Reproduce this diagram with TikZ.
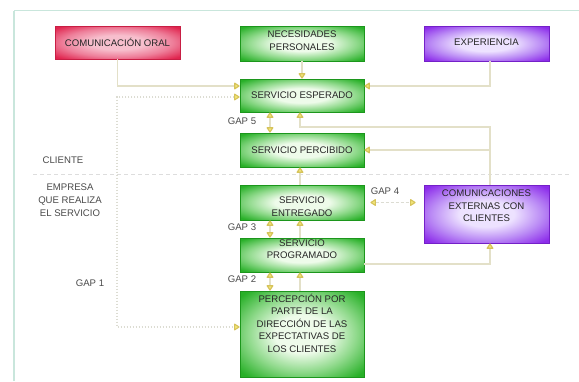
\documentclass[tikz,border=0pt]{standalone}
\usepackage{fontspec}
\setmainfont{Liberation Sans}
\usetikzlibrary{arrows.meta}

% palette
\definecolor{gIn}{HTML}{EEFBEA}
\definecolor{gMid}{HTML}{8ED98A}
\definecolor{gOut}{HTML}{28B028}
\definecolor{gEdge}{HTML}{1C961C}
\definecolor{rIn}{HTML}{F7BFCD}
\definecolor{rMid}{HTML}{EE7F9A}
\definecolor{rOut}{HTML}{E0244E}
\definecolor{rEdge}{HTML}{C81E44}
\definecolor{pIn}{HTML}{EDE2FF}
\definecolor{pMid}{HTML}{BB8CF5}
\definecolor{pOut}{HTML}{8C2CEA}
\definecolor{pEdge}{HTML}{7420C8}
\definecolor{frameteal}{HTML}{C9E6DC}
\definecolor{wirecol}{HTML}{E3E0C8}
\definecolor{gapcol}{HTML}{DCDCD2}
\definecolor{tipfill}{HTML}{F3E67A}
\definecolor{tipedge}{HTML}{D6C35A}
\definecolor{txt}{HTML}{262626}
\definecolor{lbltxt}{HTML}{4A4A4A}
\definecolor{sepgray}{HTML}{DDDDDD}

% soft glow fills for the boxes: dark rim, light centre
\pgfdeclareradialshading{greenglow}{\pgfpoint{0bp}{0bp}}{color(0bp)=(gIn); color(11bp)=(gIn); color(22bp)=(gMid); color(33bp)=(gOut); color(100bp)=(gOut)}
\pgfdeclareradialshading{redglow}{\pgfpoint{0bp}{0bp}}{color(0bp)=(rIn); color(11bp)=(rIn); color(22bp)=(rMid); color(33bp)=(rOut); color(100bp)=(rOut)}
\pgfdeclareradialshading{purpleglow}{\pgfpoint{0bp}{0bp}}{color(0bp)=(pIn); color(11bp)=(pIn); color(22bp)=(pMid); color(33bp)=(pOut); color(100bp)=(pOut)}

\tikzset{
  box/.style={rectangle, minimum width=124pt, inner sep=0pt, line width=0.8pt},
  greenbox/.style={box, shade, shading=greenglow, draw=gEdge},
  redbox/.style={box, shade, shading=redglow, draw=rEdge},
  purplebox/.style={box, shade, shading=purpleglow, draw=pEdge},
  boxtext/.style={text=txt, font=\fontsize{9.6}{12.5}\selectfont, align=center, inner sep=0pt},
  tag/.style={text=lbltxt, font=\fontsize{9.6}{12.8}\selectfont, align=center, inner sep=0pt},
  wire/.style={draw=wirecol, line width=1.2pt},
  gapwire/.style={draw=wirecol, line width=1.2pt},
  gapdash/.style={draw=gapcol, line width=1.1pt, dash pattern=on 3pt off 2pt},
  gapdot/.style={draw=gapcol, line width=1.1pt, dash pattern=on 1.5pt off 1.5pt},
  sepline/.style={draw=sepgray, line width=0.9pt, dash pattern=on 4pt off 3pt},
  framerule/.style={draw=frameteal},
}

\begin{document}
\begin{tikzpicture}[x=1pt, y=-1pt,
  >={Triangle[length=6pt, width=7.5pt, fill=tipfill, color=tipedge, line join=round]}]

\fill[white] (0,0) rectangle (579,381);
\useasboundingbox (0,0) rectangle (579,381);

% page frame (top and left rules)
\coordinate (frameTL) at (14,10.5);
\coordinate (frameTR) at (579,10.5);
\coordinate (frameBL) at (14,381);
\draw[framerule, line width=1.4pt] (frameTL) -- (frameTR);
\draw[framerule, line width=2.4pt] (frameTL) -- (frameBL);

% client / company divider
\coordinate (sepL) at (33,174);
\coordinate (sepR) at (570,174);
\draw[sepline] (sepL) -- (sepR);

% guide rows and columns for the connectors
\coordinate (rowA) at (0,86);
\coordinate (rowB) at (0,97);
\coordinate (rowC) at (0,127);
\coordinate (rowD) at (0,264);
\coordinate (rowE) at (0,327);
\coordinate (colL) at (117,0);
\coordinate (colG) at (270,0);
\coordinate (colF) at (300,0);
\coordinate (rail) at (490,0);

% boxes
\node[redbox, minimum width=125pt, minimum height=33pt] (orl) at (117.5,42.5) {};
\node[greenbox, minimum height=35pt] (nec) at (302,43.5) {};
\node[purplebox, minimum width=125pt, minimum height=35pt] (exp) at (486.5,43.5) {};
\node[greenbox, minimum height=33pt] (esp) at (302,95.5) {};
\node[greenbox, minimum height=34pt] (per) at (302,150) {};
\node[greenbox, minimum height=35pt] (ent) at (302,202.5) {};
\node[greenbox, minimum height=34pt] (prg) at (302,255) {};
\node[greenbox, minimum height=86pt] (perc) at (302,334) {};
\node[purplebox, minimum width=125pt, minimum height=58pt] (com) at (486.5,214) {};

% box texts
\node[boxtext] (orl-t) at (orl) {COMUNICACIÓN ORAL};
\node[boxtext] (nec-t) at ([yshift=3pt]nec.center) {NECESIDADES\\PERSONALES};
\node[boxtext] (exp-t) at ([yshift=1pt]exp.center) {EXPERIENCIA};
\node[boxtext] (esp-t) at (esp) {SERVICIO ESPERADO};
\node[boxtext] (per-t) at (per) {SERVICIO PERCIBIDO};
\node[boxtext] (ent-t) at ([yshift=-4pt]ent.center) {SERVICIO\\ENTREGADO};
\node[boxtext] (prg-t) at ([yshift=6pt]prg.center) {SERVICIO\\PROGRAMADO};
\node[boxtext] (perc-t) at ([yshift=11pt]perc.center) {PERCEPCIÓN POR\\PARTE DE LA\\DIRECCIÓN DE LAS\\EXPECTATIVAS DE\\LOS CLIENTES};
\node[boxtext] (com-t) at ([yshift=8pt]com.center) {COMUNICACIONES\\EXTERNAS CON\\CLIENTES};

% side labels
\node[tag] (cliente) at (63,160) {CLIENTE};
\node[tag] (empresa) at (70,200) {EMPRESA\\QUE REALIZA\\EL SERVICIO};
\node[tag] (gap1) at (90,283) {GAP 1};
\node[tag] (gap5) at (242,121) {GAP 5};
\node[tag] (gap4) at (385,191) {GAP 4};
\node[tag] (gap3) at (242,227) {GAP 3};
\node[tag] (gap2) at (242,279) {GAP 2};

% influences on the expected service
\draw[wire,->] (orl.south) |- (esp.west |- rowA);
\draw[wire,->] (nec) -- (esp);
\draw[wire,->] (exp.south -| rail) |- (esp.east |- rowA);
\draw[wire,->] (com.north -| rail) |- (colF |- rowC) -- (esp.south -| colF);
\draw[wire,->] (rail |- per.east) -- (per.east);

% company chain feeding upwards
\draw[wire,->] (ent.north -| colF) -- (per.south -| colF);
\draw[wire,->] (prg.north -| colF) -- (ent.south -| colF);
\draw[wire,->] (perc.north -| colF) -- (prg.south -| colF);
\draw[wire,->] (prg.east |- rowD) -| (com.south -| rail);

% gaps
\draw[gapwire,<->] (esp.south -| colG) -- (per.north -| colG);
\draw[gapwire,<->] (ent.south -| colG) -- (prg.north -| colG);
\draw[gapwire,<->] (prg.south -| colG) -- (perc.north -| colG);
\draw[gapdash,<->, shorten <=6pt, shorten >=8pt] (ent.east) -- (com.west |- ent.east);
\draw[gapdot,<->] (esp.west |- rowB) -| (colL |- rowE) -- (perc.west |- rowE);

\end{tikzpicture}
\end{document}
